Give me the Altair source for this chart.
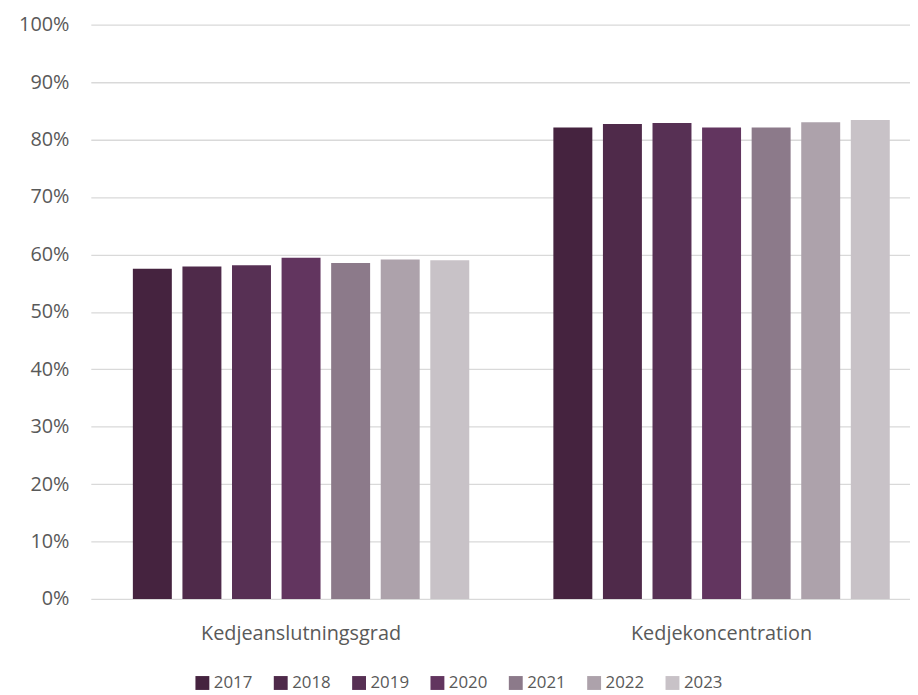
import altair as alt
import pandas as pd

years = ["2017", "2018", "2019", "2020", "2021", "2022", "2023"]
categories = ["Kedjeanslutningsgrad", "Kedjekoncentration"]
values_grad = [57.5, 57.9, 58.1, 59.4, 58.5, 59.1, 59.0]
values_konc = [82.1, 82.7, 82.9, 82.1, 82.1, 83.0, 83.4]
colors = ["#45233F", "#4F2A4A", "#573054", "#62355F", "#8C7A8A", "#ADA2AB", "#C8C2C7"]

rows = []
for cat, vals in zip(categories, [values_grad, values_konc]):
    for y, v in zip(years, vals):
        rows.append({"kategori": cat, "år": y, "andel": v / 100})
df = pd.DataFrame(rows)

FONT = "Open Sans"
GREY = "#595959"

chart = alt.Chart(df).mark_bar().encode(
    x=alt.X("kategori:N", sort=categories, title=None,
            scale=alt.Scale(range=[0, 848], paddingInner=0.2, paddingOuter=0.1),
            axis=alt.Axis(labelAngle=0, ticks=False, domain=False, grid=False,
                          labelFontSize=20, labelColor=GREY, labelFont=FONT,
                          labelPadding=25, labelLimit=500)),
    xOffset=alt.XOffset("år:N", sort=years, scale=alt.Scale(paddingInner=0.214, paddingOuter=0)),
    y=alt.Y("andel:Q", title=None,
            scale=alt.Scale(domain=[0, 1], nice=False),
            axis=alt.Axis(format=".0%", values=[i / 10 for i in range(11)],
                          ticks=False, domain=False, gridColor="#D9D9D9", gridWidth=1.3,
                          labelFontSize=20, labelColor=GREY, labelFont=FONT,
                          labelPadding=22)),
    color=alt.Color("år:N", sort=years, scale=alt.Scale(domain=years, range=colors),
                    legend=alt.Legend(title=None, orient="none", legendX=104, legendY=655,
                                      direction="horizontal", columns=7,
                                      symbolType="square", symbolSize=196,
                                      symbolStrokeWidth=0, labelFontSize=17,
                                      labelColor=GREY, labelFont=FONT, labelOffset=3,
                                      columnPadding=20)),
).properties(
    width=826, height=579,
    autosize=alt.AutoSizeParams(type="none"),
    padding={"left": 83.5, "top": 14, "right": 0, "bottom": 94},
).configure_view(stroke=None)

chart.save("out.html", embed_options={"renderer": "svg", "actions": False})
